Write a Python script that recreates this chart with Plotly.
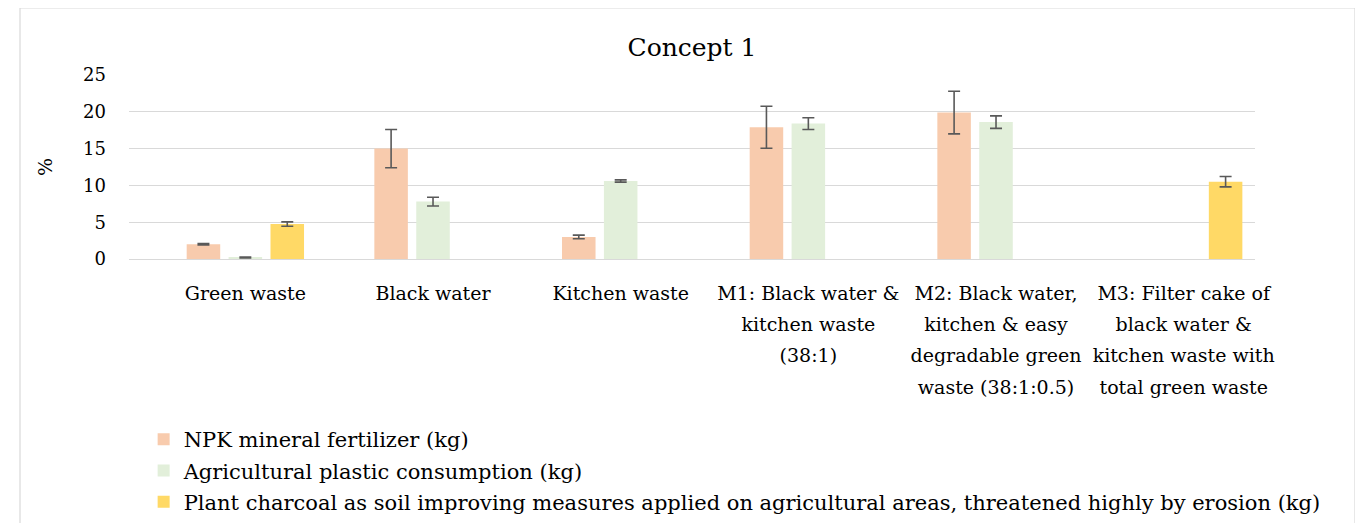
import plotly.graph_objects as go

categories = [
    "Green waste",
    "Black water",
    "Kitchen waste",
    "M1: Black water &<br>kitchen waste<br>(38:1)",
    "M2: Black water,<br>kitchen & easy<br>degradable green<br>waste (38:1:0.5)",
    "M3: Filter cake of<br>black water &<br>kitchen waste with<br>total green waste",
]
series_names = [
    "NPK mineral fertilizer (kg)",
    "Agricultural plastic consumption (kg)",
    "Plant charcoal as soil improving measures applied on agricultural areas, threatened highly by erosion (kg)",
]
npk = [2.0, 15.0, 3.0, 17.9, 19.9, None]
npk_err = [0.1, 2.6, 0.25, 2.85, 2.9, None]
plastic = [0.2, 7.8, 10.6, 18.4, 18.6, None]
plastic_err = [0.05, 0.6, 0.15, 0.8, 0.85, None]
charcoal = [4.75, None, None, None, None, 10.5]
charcoal_err = [0.3, None, None, None, None, 0.7]
colors = ["#F8CBAD", "#E2EFDA", "#FFD966"]
y_ticks = [0, 5, 10, 15, 20, 25]

FONT = "DejaVu Serif"
LABEL_PX = 19

tick_text = ["<br>".join(f"<span style='font-size:{LABEL_PX}px'>{ln}</span>"
                         for ln in c.split("<br>")) for c in categories]

fig = go.Figure()
for i, (name, vals, errs, col) in enumerate(zip(series_names, [npk, plastic, charcoal],
                                                [npk_err, plastic_err, charcoal_err], colors)):
    fig.add_trace(go.Bar(
        x=categories, y=vals, name=name, legendgroup=f"g{i}",
        marker=dict(color=col, line=dict(width=0)),
        error_y=dict(type="data", array=errs, visible=True,
                     color="#595959", thickness=1.6, width=6),
    ))

fig.update_layout(
    width=1355, height=515,
    margin=dict(l=121, r=108, t=67, b=264, autoexpand=False),
    paper_bgcolor="white", plot_bgcolor="white",
    font=dict(family=FONT, size=19, color="#000000"),
    title=dict(text="Concept 1", x=0.5, xref="paper", y=1 - 39 / 515,
               yanchor="middle", font=dict(family=FONT, size=25, color="#000")),
    barmode="group", bargap=0.33, bargroupgap=0.2,
    showlegend=True,
    legend=dict(orientation="v", x=0.013, xanchor="left", y=-0.87, yanchor="top",
                font=dict(family=FONT, size=21), bgcolor="rgba(0,0,0,0)",
                tracegroupgap=1, traceorder="grouped", itemsizing="constant"),
    shapes=[dict(type="rect", xref="paper", yref="paper",
                 x0=(20 - 129) / 1126, x1=(1355 - 129) / 1126,
                 y0=-1.6, y1=(259 - 8) / 184,
                 line=dict(color="#D9D9D9", width=1.2), fillcolor="rgba(0,0,0,0)",
                 layer="below")],
)
fig.update_xaxes(showgrid=False, showline=False, ticks="", tickfont=dict(size=24),
                 tickvals=categories, ticktext=tick_text, range=[-0.62, 5.38],
                 tickangle=0, automargin=False,
                 zeroline=False, ticklabelstandoff=16)
fig.update_yaxes(range=[0, 25], tickvals=y_ticks, showgrid=True, gridcolor="#D9D9D9",
                 gridwidth=1.3, zeroline=True, zerolinecolor="#D9D9D9", zerolinewidth=1.3,
                 showline=False, ticks="", tickfont=dict(size=18), ticklabelstandoff=22,
                 automargin=False,
                 title=dict(text="%", font=dict(size=19), standoff=25))

fig.write_html("out.html")
